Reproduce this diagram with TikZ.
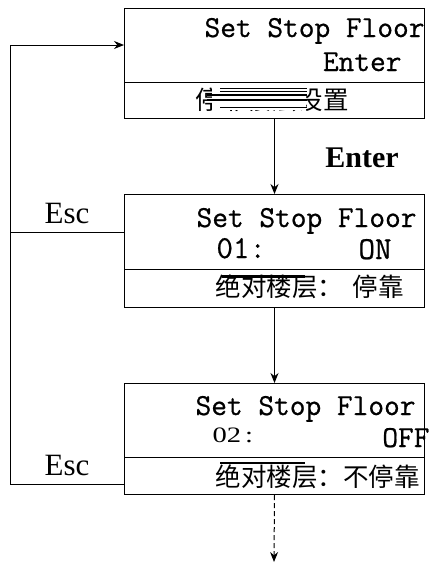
\documentclass[tikz,border=0pt]{standalone}
\usepackage{fontspec}
\setmainfont{Liberation Serif}
\setmonofont{Latin Modern Mono}[FakeBold=0.7]
\newfontfamily\wideserif[FakeStretch=1.3]{Liberation Serif}
\newfontfamily\cjk{Noto Sans CJK SC}
\usetikzlibrary{arrows.meta}
\begin{document}
\begin{tikzpicture}[x=1pt,y=-1pt,
  line width=1pt,
  screen/.style={draw,line width=1pt,minimum width=300pt,anchor=north west,inner sep=0pt},
  lcdtext/.style={inner sep=0pt,font=\ttfamily\fontsize{30.5}{30.5}\selectfont},
  cjktext/.style={inner sep=0pt,font=\cjk\fontsize{25.5}{25.5}\selectfont},
  keylabel/.style={inner sep=0pt,anchor=base,font=\fontsize{31}{31}\selectfont},
  flow/.style={-{Stealth[length=10pt,width=8pt]},line width=1pt},
  redact/.style={line width=2pt}]
\useasboundingbox (0,0) rectangle (429,568);
% screens
\node[screen,minimum height=110pt] (b1) at (124,8) {};
\node[screen,minimum height=113pt] (b2) at (124,194) {};
\node[screen,minimum height=111pt] (b3) at (124,383) {};
\draw (124,82) -- (424,82);
\draw (124,269) -- (424,269);
\draw (124,457) -- (424,457);
% screen 1 texts
\node[lcdtext,anchor=base east] (t1a) at (425,37) {Set Stop Floor};
\node[lcdtext,anchor=base east] (t1b) at (402,71) {Enter};
\node[cjktext,anchor=base west] (t1c) at (195,109) {停靠楼层设置};
\fill[white] (212,85) rectangle (306,110);
\draw[line width=0.7pt] (220,88) -- (307,88);
\draw[line width=0.7pt] (220,91) -- (307,91);
\draw[redact] (207,95) -- (307,95);
\draw[redact] (207,100) -- (307,100);
\draw[line width=0.7pt] (220,107) -- (307,107);
% screen 2 texts
\node[lcdtext,anchor=base east] (t2a) at (417,227) {Set Stop Floor};
\node[lcdtext,anchor=base west,font=\ttfamily\fontsize{32}{32}\selectfont] (t2b) at (216,258) {01:};
\node[lcdtext,anchor=base east,font=\ttfamily\fontsize{32}{32}\selectfont] (t2c) at (392,259) {ON};
\node[cjktext,anchor=base west] (t2d) at (215,296) {绝对楼层：\hspace{10pt}停靠};
\draw[line width=2.5pt] (222,276.5) -- (305,276.5);
% screen 3 texts
\node[lcdtext,anchor=base east] (t3a) at (416,415) {Set Stop Floor};
\node[inner sep=0pt,anchor=base west,font=\wideserif\fontsize{22}{22}\selectfont] (t3b) at (212,442) {02\kern4pt:};
\node[lcdtext,anchor=base east] (t3c) at (430,447) {OFF};
\node[cjktext,anchor=base west] (t3d) at (215,486) {绝对楼层：不停靠};
\draw[line width=2.5pt] (220,463) -- (305,463);
\draw (424,383) -- (424,494);
% connectors
\draw[flow] (b1.south) -- (b2.north);
\node[inner sep=0pt,anchor=base,font=\bfseries\fontsize{30}{30}\selectfont] (lenter) at (362,167) {Enter};
\draw[flow] (b2.south) -- (b3.north);
\coordinate (dn) at (274,562);
\draw[flow,dashed,dash pattern=on 5pt off 3pt] (b3.south) -- (dn);
\coordinate (e1) at (124,232);
\coordinate (e2) at (124,484);
\coordinate (in1) at (124,45);
\coordinate (lc) at (10,45);
\draw[flow] (e2) -| (lc) -- (in1);
\draw (e1) -- (lc |- e1);
\node[keylabel] (esc1) at (67,223) {Esc};
\node[keylabel] (esc2) at (67,475) {Esc};
\end{tikzpicture}
\end{document}
